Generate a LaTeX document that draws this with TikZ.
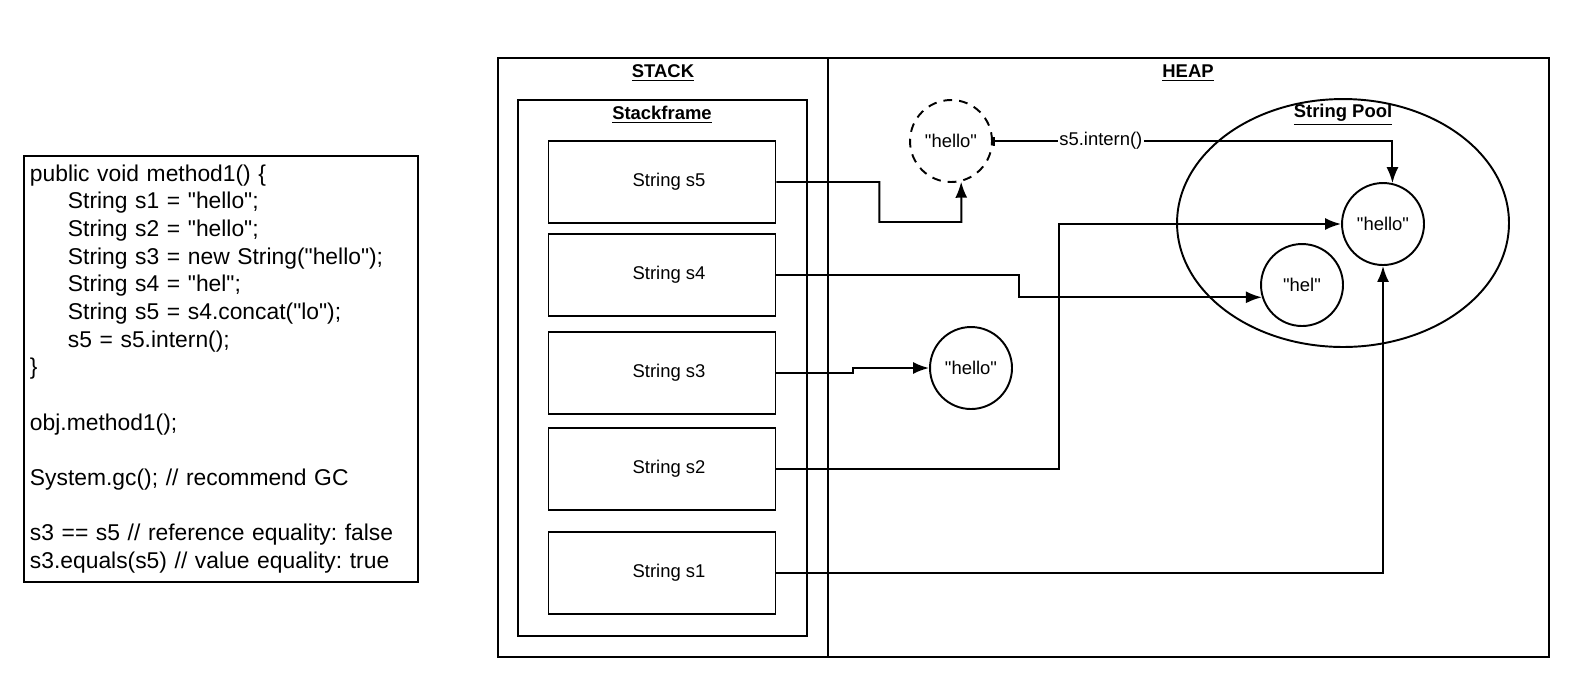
\documentclass[tikz,border=0pt]{standalone}
\usepackage{fontspec}
\setmainfont{Liberation Sans}[Ligatures=TeXOff]
\usepackage{tikz}
\usetikzlibrary{arrows.meta,calc,shapes.geometric}
\frenchspacing

\tikzset{
  strbox/.style={draw,line width=1.1pt,minimum width=4.54cm,minimum height=1.64cm,inner sep=0pt,font=\fontsize{10.5}{12}\selectfont},
  strobj/.style={draw,circle,line width=1.1pt,minimum size=1.64cm,inner sep=0pt,font=\fontsize{10.5}{12}\selectfont},
  heading/.style={font=\fontsize{10.5}{12}\selectfont\bfseries,inner sep=1pt},
  conn/.style={line width=1.1pt,-{Latex[length=0.32cm,width=0.24cm]}},
}

\begin{document}
\begin{tikzpicture}[x=0.02cm,y=-0.02cm,line join=miter]
  \useasboundingbox (0,0) rectangle (1577,698);
  % code listing
  \node[draw,line width=1.1pt,anchor=north west,text width=7.64cm,minimum height=8.52cm,inner xsep=0.12cm,align=left,
        font=\fontsize{13}{15.75}\selectfont] (code) at (23,155) {%
    public void method1() \{\\
    \hspace*{0.76cm}String s1 = "hello";\\
    \hspace*{0.76cm}String s2 = "hello";\\
    \hspace*{0.76cm}String s3 = new String("hello");\\
    \hspace*{0.76cm}String s4 = "hel";\\
    \hspace*{0.76cm}String s5 = s4.concat("lo");\\
    \hspace*{0.76cm}s5 = s5.intern();\\
    \}\\
    \mbox{}\\
    obj.method1();\\
    \mbox{}\\
    System.gc(); // recommend GC\\
    \mbox{}\\
    s3 == s5 // reference equality: false\\
    s3.equals(s5) // value equality: true};
  % memory areas
  \draw[line width=1.1pt] (498,58) rectangle (1549,657);
  \draw[line width=1.1pt] (828,58) -- (828,657);
  \draw[line width=1.1pt] (518,100) rectangle (807,636);
  \node[heading] (stk) at (663,73) {\underline{STACK}};
  \node[heading] (hp) at (1188,73) {\underline{HEAP}};
  \node[heading] (frm) at (662,115) {\underline{Stackframe}};
  \node[draw,ellipse,line width=1.1pt,minimum width=6.64cm,minimum height=4.96cm] (spool) at (1343,223) {};
  \node[heading] (spl) at (1343,115) {\underline{String Pool}};
  % references
  \node[strbox] (s5) at (662,182) {\hspace{8pt}String s5};
  \node[strbox] (s4) at (662,275) {\hspace{8pt}String s4};
  \node[strbox] (s3) at (662,373) {\hspace{8pt}String s3};
  \node[strbox] (s2) at (662,469) {\hspace{8pt}String s2};
  \node[strbox] (s1) at (662,573) {\hspace{8pt}String s1};
  % objects
  \node[strobj,dashed,dash pattern=on 5pt off 4pt] (tmp) at (951,141) {"hello"};
  \node[strobj] (pool) at (1383,224) {"hello"};
  \node[strobj] (hel) at (1302,285) {"hel"};
  \node[strobj] (obj3) at (971,368) {"hello"};
  % arrows
  \draw[conn] (s5.east) -- ++(103,0) |- ++(82,40) -- (tmp.-76);
  \draw[line width=1.1pt,{Bar[width=0.18cm]}-{Latex[length=0.32cm,width=0.24cm]}] (tmp.east) -| (pool.77)
    node[pos=0.135,fill=white,inner sep=1pt,font=\fontsize{10.5}{12}\selectfont] {s5.intern()};
  \draw[conn] (s4.east) -- ++(243,0) |- (hel.197);
  \draw[conn] (s3.east) -- ++(77,0) |- (obj3.west);
  \draw[conn] (s2.east) -- ++(283,0) |- (pool.west);
  \draw[conn] (s1.east) -| (pool.south);
\end{tikzpicture}
\end{document}
